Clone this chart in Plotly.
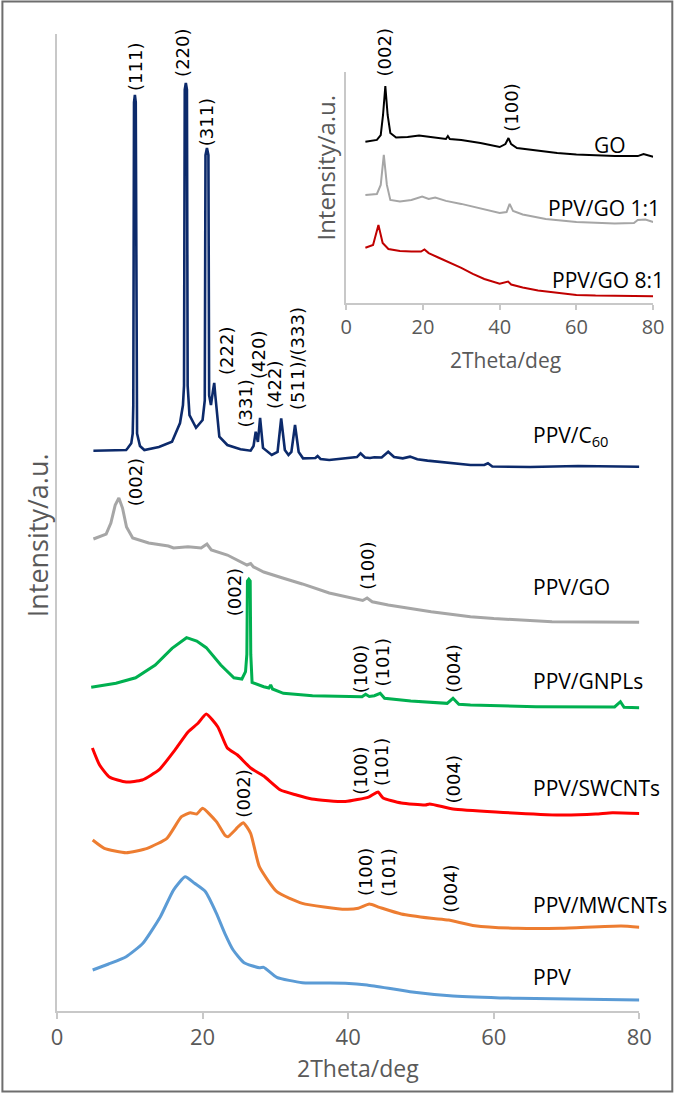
import plotly.graph_objects as go

# ---------------- main panel data (2Theta in deg, intensity in a.u. incl. offsets) ----------------
tt_c60 = [5, 9.5, 9.7, 10.2, 10.4, 10.48, 10.58, 10.7, 10.82, 10.92, 11.0, 11.4, 12, 14, 15.8, 16.9,
          17.3, 17.45, 17.55, 17.7, 17.85, 17.95, 18.2, 19.1, 20.0, 20.3, 20.4, 20.6, 20.8, 20.9, 21.15,
          21.45, 21.6, 21.75, 22.3, 23.4, 25.2, 26.6, 27.0, 27.3, 27.6, 27.9, 28.3, 29.5, 30.3, 30.8,
          31.3, 31.8, 32.2, 32.7, 33.2, 33.8, 35.5, 35.8, 36.2, 37.4, 40.1, 41.2, 41.7, 42.3, 43.0,
          43.6, 44.6, 45.5, 46.3, 47.5, 48.5, 49.5, 50.9, 53.6, 56.8, 58.7, 59.2, 59.8, 65, 71.6, 76, 80]
int_c60 = [57.35, 57.42, 57.6, 58.1, 59.1, 62.0, 93.0, 93.76, 93.0, 62.0, 59.1, 57.83, 57.42, 57.73, 58.27, 60.18,
           62.0, 64.0, 94.3, 94.98, 94.3, 64.0, 61.0, 59.70, 60.49, 62.5, 87.6, 88.33, 87.6, 63.0, 62.03,
           63.6, 64.28, 63.0, 58.78, 57.93, 57.49, 57.35, 57.83, 59.29, 58.24, 60.70, 57.63, 56.91, 57.22, 60.66,
           57.42, 56.91, 57.22, 59.98, 57.22, 56.57, 56.60, 56.81, 56.50, 56.40, 56.57, 56.70, 57.08, 56.65, 56.60,
           56.67, 56.65, 57.25, 56.70, 56.57, 56.74, 56.47, 56.33, 56.12, 55.89, 55.89, 56.06, 55.73, 55.68, 55.78, 55.71, 55.71]

tt_go = [5, 6.75, 7.4, 8.0, 8.5, 9.0, 9.55, 10.4, 12.6, 15.3, 16.0, 18.0, 19.8, 20.6, 21.2, 23.4, 26.1, 26.6,
         27.0, 28.4, 31, 33.7, 37.4, 40, 42, 42.6, 43.3, 45.5, 48.6, 51.4, 56.8, 60, 68, 80]
int_go = [48.31, 48.82, 49.95, 51.79, 52.51, 51.48, 49.54, 48.41, 47.90, 47.59, 47.39, 47.52, 47.39, 47.80, 47.19,
          46.67, 45.65, 45.80, 45.45, 44.93, 44.32, 43.71, 42.78, 42.38, 42.02, 42.27, 41.89, 41.56, 41.22, 40.87,
          40.36, 40.17, 39.85, 39.79]

tt_gnpl = [4.7, 8.1, 10.8, 13.5, 15.8, 17.8, 19.2, 20.5, 22.5, 24.3, 25.4, 25.9, 26.08, 26.16, 26.35, 26.54,
           26.62, 26.8, 28.4, 29.1, 29.35, 29.6, 31.1, 35.1, 41.9, 42.4, 42.9, 43.6, 44.4, 45, 48.6, 53.6, 54.4,
           55.2, 56.8, 65.8, 76.6, 77.4, 77.9, 80]
int_gnpl = [33.13, 33.54, 34.11, 35.41, 37.12, 38.21, 37.87, 37.19, 35.41, 34.11, 33.98, 34.73, 36.5, 44.0, 44.19,
            44.0, 36.5, 33.64, 33.19, 33.06, 33.37, 32.96, 32.52, 32.27, 32.17, 32.42, 32.19, 32.27, 32.52, 32.01,
            31.73, 31.49, 32.01, 31.39, 31.32, 31.15, 31.12, 31.66, 31.09, 31.04]

tt_swcnt = [4.86, 5.85, 7.2, 9.5, 11.7, 14.0, 16.2, 18.0, 19.4, 20.5, 22.1, 23.4, 24.8, 26.6, 28.4, 30.7, 32.9,
            35, 39.6, 42.8, 44.1, 44.8, 47.3, 50.6, 51.2, 54.4, 60.3, 69.2, 74, 76.3, 80]
int_swcnt = [26.92, 25.18, 23.95, 23.44, 23.64, 24.67, 26.71, 28.56, 29.48, 30.40, 29.07, 26.92, 26.20, 24.87,
             24.05, 22.62, 22.11, 21.70, 21.44, 21.90, 22.42, 21.80, 21.29, 21.08, 21.19, 20.68, 20.37, 20.06,
             20.16, 20.30, 20.22]

tt_mwcnt = [4.9, 6.5, 9.5, 12.4, 15.1, 17.1, 18.3, 19.2, 20.0, 21.9, 23.05, 23.5, 24.2, 25.0, 25.6, 26.6, 27.8,
            30.2, 33.7, 39.6, 41.4, 42.9, 44.3, 47.3, 51.4, 53.8, 57.4, 63.3, 69.2, 77.5, 80]
int_mwcnt = [17.50, 16.65, 16.20, 16.65, 17.68, 19.89, 20.30, 20.16, 20.75, 19.38, 18.01, 17.84, 18.32, 18.94,
             19.27, 18.19, 14.77, 12.21, 11.02, 10.41, 10.51, 10.95, 10.61, 9.93, 9.49, 9.31, 8.73, 8.46, 8.46,
             8.70, 8.57]

tt_ppv = [4.9, 7.1, 9.5, 11.8, 14.2, 16, 17.6, 18.9, 20.4, 21.9, 23.05, 24.2, 25.7, 27.8, 28.4, 30.2, 33.7,
          39.6, 42.6, 48.5, 54.4, 63.3, 80]
int_ppv = [4.20, 4.81, 5.56, 6.93, 9.65, 12.38, 13.74, 13.07, 12.21, 10.00, 7.95, 6.24, 4.94, 4.43, 4.47, 3.45,
           2.90, 2.84, 2.66, 1.98, 1.54, 1.30, 1.13]

# ---------------- inset data ----------------
tt_in_go = [5, 8, 9, 9.6, 10.2, 10.8, 11.5, 13, 16, 19, 22, 26, 26.5, 27, 30, 35, 40, 41.5, 42.3, 43, 44.5,
            50, 55, 60, 70, 76, 77.5, 80]
int_in_go = [69.8, 70.6, 72.7, 81.4, 93.9, 81.4, 73.6, 71.6, 71.9, 72.5, 71.9, 71.0, 72.3, 71.0, 70.6, 69.3,
             67.5, 68.8, 71.4, 68.8, 67.1, 65.8, 64.9, 64.3, 63.6, 63.6, 64.5, 63.3]

tt_in_11 = [5, 8, 9, 9.8, 10.6, 11.5, 14, 17, 19.8, 21.5, 23.2, 26, 30, 35, 40, 41.8, 42.6, 43.5, 46, 52, 60,
            70, 75, 76, 78, 80]
int_in_11 = [46.8, 47.2, 51.1, 64.1, 51.1, 44.6, 43.9, 44.6, 46.1, 45.0, 45.7, 44.2, 42.9, 41.1, 39.0, 39.4,
             42.9, 39.8, 38.3, 36.4, 35.1, 34.4, 34.6, 35.9, 36.1, 35.1]

tt_in_81 = [5, 7, 8.4, 9.5, 11, 14, 17, 19.5, 20.4, 21.5, 24, 27, 30, 33, 36, 40, 42.2, 43, 46, 50, 55, 60,
            65, 70, 80]
int_in_81 = [23.9, 25.1, 33.8, 26.0, 23.4, 22.5, 22.3, 22.3, 23.2, 21.6, 19.7, 17.5, 15.2, 12.6, 10.4, 8.4,
             9.3, 8.0, 6.7, 5.4, 4.3, 3.5, 3.2, 3.0, 2.9]

x_ticks = [0, 20, 40, 60, 80]

# ---------------- text labels ----------------
series_names = ["PPV/C<sub>60</sub>", "PPV/GO", "PPV/GNPLs", "PPV/SWCNTs", "PPV/MWCNTs", "PPV"]
series_label_x = 65.1
series_label_y = [58.9, 43.4, 33.78, 22.82, 10.85, 3.48]

peak_text = ["(111)", "(220)", "(311)", "(222)", "(331)", "(420)", "(422)", "(511)/(333)",
             "(002)", "(100)",
             "(002)", "(100)", "(101)", "(004)",
             "(100)", "(101)", "(004)",
             "(002)", "(100)", "(101)", "(004)"]
peak_x = [10.7, 17.3, 20.5, 23.2, 25.9, 27.6, 29.8, 33.1,
          10.9, 42.7,
          24.5, 41.8, 44.7, 54.5,
          41.6, 44.6, 54.6,
          25.5, 42.4, 45.5, 54.1]
peak_y = [96.62, 98.06, 90.99, 67.55, 62.13, 67.14, 64.07, 66.84,
          54.15, 45.55,
          42.89, 35.01, 35.72, 35.01,
          24.56, 25.44, 23.75,
          22.21, 14.18, 14.18, 12.49]

inset_names = ["GO", "PPV/GO 1:1", "PPV/GO 8:1"]
inset_name_y = [68.4, 41.1, 10.0]
inset_peak_text = ["(002)", "(100)"]
inset_peak_x = [10.1, 43.0]

# ---------------- figure geometry ----------------
W, H = 685, 1095
PLOT_L, PLOT_R, PLOT_T, PLOT_B = 57, 670, 34, 1011          # plot area in pixels
ML, MR, MT, MB = PLOT_L, W - PLOT_R, PLOT_T, H - PLOT_B
PW, PH = PLOT_R - PLOT_L, PLOT_B - PLOT_T


def px_x(px):
    return (px - PLOT_L) / PW


def px_y(py):
    return (PLOT_B - py) / PH


fig = go.Figure()

main_series = [
    (tt_c60, int_c60, "#0C2A6B", 2.6, "linear"),
    (tt_go, int_go, "#A6A6A6", 3, "linear"),
    (tt_gnpl, int_gnpl, "#00B050", 3, "linear"),
    (tt_swcnt, int_swcnt, "#FF0000", 3, "spline"),
    (tt_mwcnt, int_mwcnt, "#ED7D31", 3, "spline"),
    (tt_ppv, int_ppv, "#5B9BD5", 3, "spline"),
]
for xs, ys, col, w, shp in main_series:
    fig.add_trace(go.Scatter(x=xs, y=ys, mode="lines", xaxis="x", yaxis="y",
                             line=dict(color=col, width=w, shape=shp, smoothing=0.5),
                             showlegend=False, hoverinfo="skip"))

inset_series = [
    (tt_in_go, int_in_go, "#000000"),
    (tt_in_11, int_in_11, "#A6A6A6"),
    (tt_in_81, int_in_81, "#C00000"),
]
for xs, ys, col in inset_series:
    fig.add_trace(go.Scatter(x=xs, y=ys, mode="lines", xaxis="x2", yaxis="y2",
                             line=dict(color=col, width=2),
                             showlegend=False, hoverinfo="skip"))

ann = []
label_font = dict(family="Open Sans", size=21, color="#000000")
peak_font = dict(family="DejaVu Sans", size=18, color="#000000")
title_col = "#595959"

for name, y in zip(series_names, series_label_y):
    ann.append(dict(x=series_label_x, y=y, xref="x", yref="y", text=name, showarrow=False,
                    xanchor="left", yanchor="middle", font=label_font))

for t, x, y in zip(peak_text, peak_x, peak_y):
    ann.append(dict(x=x, y=y, xref="x", yref="y", text=t, showarrow=False, textangle=-90,
                    xanchor="center", yanchor="middle", font=peak_font))

# inset series labels (right aligned)
inset_label_right_px = [637, 672, 676]
for name, rp, y in zip(inset_names, inset_label_right_px, inset_name_y):
    ann.append(dict(x=px_x(rp), y=y, xref="paper", yref="y2", text=name, showarrow=False,
                    xanchor="right", yanchor="middle", font=label_font))

ann.append(dict(x=inset_peak_x[0], y=px_y(52.5), xref="x2", yref="paper", text=inset_peak_text[0],
                showarrow=False, textangle=-90, xanchor="center", yanchor="middle", font=peak_font))
ann.append(dict(x=inset_peak_x[1], y=84.6, xref="x2", yref="y2", text=inset_peak_text[1],
                showarrow=False, textangle=-90, xanchor="center", yanchor="middle", font=peak_font))

# axis titles
ann.append(dict(x=px_x(37), y=px_y(535), xref="paper", yref="paper", text="Intensity/a.u.",
                showarrow=False, textangle=-90, xanchor="center", yanchor="middle",
                font=dict(family="Open Sans", size=27, color=title_col)))
ann.append(dict(x=px_x(363), y=px_y(1068), xref="paper", yref="paper", text="2Theta/deg",
                showarrow=False, xanchor="center", yanchor="middle",
                font=dict(family="Open Sans", size=23, color=title_col)))
ann.append(dict(x=px_x(329), y=px_y(168), xref="paper", yref="paper", text="Intensity/a.u.",
                showarrow=False, textangle=-90, xanchor="center", yanchor="middle",
                font=dict(family="Open Sans", size=24, color=title_col)))
ann.append(dict(x=px_x(512.5), y=px_y(360), xref="paper", yref="paper", text="2Theta/deg",
                showarrow=False, xanchor="center", yanchor="middle",
                font=dict(family="Open Sans", size=21, color=title_col)))

axis_col = "#C8C8C8"
fig.update_layout(
    width=W, height=H,
    margin=dict(l=ML, r=MR, t=MT, b=MB),
    paper_bgcolor="white", plot_bgcolor="white",
    showlegend=False,
    annotations=ann,
    xaxis=dict(domain=[0, px_x(649)], range=[0, 80], tickvals=x_ticks, ticks="outside", ticklen=6,
               tickcolor=axis_col, tickwidth=1.5, showline=True, linecolor=axis_col, linewidth=1.5,
               showgrid=False, zeroline=False, anchor="y",
               tickfont=dict(family="Open Sans", size=22, color=title_col)),
    yaxis=dict(domain=[0, 1], range=[0, 100], showline=True, linecolor=axis_col, linewidth=1.5,
               showticklabels=False, ticks="", showgrid=False, zeroline=False, anchor="x"),
    xaxis2=dict(domain=[px_x(351), px_x(663)], range=[0, 80], tickvals=x_ticks, ticks="outside",
                ticklen=5, tickcolor=axis_col, tickwidth=1.5, showline=True, linecolor=axis_col,
                linewidth=1.5, showgrid=False, zeroline=False, anchor="y2",
                tickfont=dict(family="Open Sans", size=20, color=title_col)),
    yaxis2=dict(domain=[px_y(303), px_y(72)], range=[0, 100], showline=True, linecolor=axis_col,
                linewidth=1.5, showticklabels=False, ticks="", showgrid=False, zeroline=False,
                anchor="x2"),
    shapes=[dict(type="rect", xref="paper", yref="paper",
                 x0=px_x(1.5), x1=px_x(682.5), y0=px_y(1091.5), y1=px_y(1.5),
                 line=dict(color="#6E6E6E", width=2), fillcolor="rgba(0,0,0,0)")],
)

# remove the default page margin so the 685x1095 figure fills the window exactly
fig.write_html("out.html",
               config={"displayModeBar": False},
               post_script="document.body.style.margin='0';document.body.style.overflow='hidden';")
